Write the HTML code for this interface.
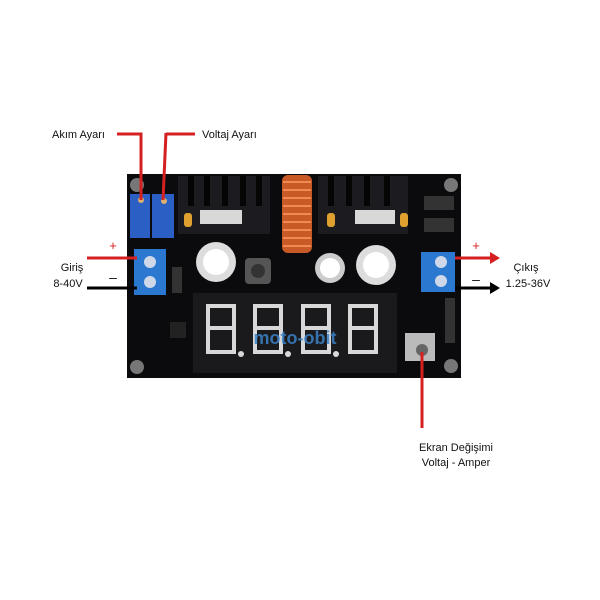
<!DOCTYPE html>
<html><head><meta charset="utf-8"><style>
html,body{margin:0;padding:0;background:#fff}
svg{display:block}
text{font-family:"Liberation Sans",sans-serif}
</style></head><body>
<svg width="600" height="600" viewBox="0 0 600 600" xmlns="http://www.w3.org/2000/svg">
<rect width="600" height="600" fill="#fff"/>
<rect x="127" y="174" width="334" height="204" fill="#0b0b0d"/>
<g fill="#1c1c20">
<rect x="178" y="176" width="92" height="58"/>
<rect x="318" y="176" width="90" height="58"/>
</g>
<g fill="#050506">
<rect x="188" y="176" width="6" height="30"/><rect x="204" y="176" width="6" height="30"/><rect x="222" y="176" width="6" height="30"/><rect x="240" y="176" width="6" height="30"/><rect x="256" y="176" width="6" height="30"/>
<rect x="328" y="176" width="6" height="30"/><rect x="346" y="176" width="6" height="30"/><rect x="364" y="176" width="6" height="30"/><rect x="384" y="176" width="6" height="30"/>
</g>
<rect x="200" y="210" width="42" height="14" fill="#d8d8d8"/>
<rect x="355" y="210" width="40" height="14" fill="#d8d8d8"/>
<rect x="184" y="213" width="8" height="14" rx="3" fill="#e0a030"/>
<rect x="327" y="213" width="8" height="14" rx="3" fill="#e0a030"/>
<rect x="400" y="213" width="8" height="14" rx="3" fill="#e0a030"/>
<rect x="282" y="175" width="30" height="78" rx="6" fill="#c85a28"/>
<g stroke="#f08a50" stroke-width="2">
<line x1="283" y1="182" x2="311" y2="182"/><line x1="283" y1="190" x2="311" y2="190"/><line x1="283" y1="198" x2="311" y2="198"/><line x1="283" y1="206" x2="311" y2="206"/><line x1="283" y1="214" x2="311" y2="214"/><line x1="283" y1="222" x2="311" y2="222"/><line x1="283" y1="230" x2="311" y2="230"/><line x1="283" y1="238" x2="311" y2="238"/><line x1="283" y1="246" x2="311" y2="246"/>
</g>
<rect x="424" y="196" width="30" height="14" fill="#333"/>
<rect x="424" y="218" width="30" height="14" fill="#333"/>
<circle cx="216" cy="262" r="20" fill="#ddd"/><circle cx="216" cy="262" r="13" fill="#fff"/>
<circle cx="330" cy="268" r="15" fill="#ccc"/><circle cx="330" cy="268" r="10" fill="#fff"/>
<circle cx="376" cy="265" r="20" fill="#ddd"/><circle cx="376" cy="265" r="13" fill="#fff"/>
<rect x="245" y="258" width="26" height="26" rx="4" fill="#555"/><circle cx="258" cy="271" r="7" fill="#333"/>
<rect x="130" y="194" width="20" height="44" fill="#2b5fc4"/>
<rect x="152" y="194" width="22" height="44" fill="#2b5fc4"/>
<circle cx="141" cy="200" r="3" fill="#e0b070"/><circle cx="164" cy="201" r="3" fill="#e0b070"/>
<rect x="134" y="249" width="32" height="46" fill="#2a78d0"/>
<circle cx="150" cy="262" r="6" fill="#cfd8e8"/><circle cx="150" cy="282" r="6" fill="#cfd8e8"/>
<rect x="172" y="267" width="10" height="26" fill="#333"/>
<rect x="421" y="252" width="34" height="40" fill="#2a78d0"/>
<circle cx="441" cy="262" r="6" fill="#cfd8e8"/><circle cx="441" cy="281" r="6" fill="#cfd8e8"/>
<circle cx="137" cy="185" r="7" fill="#777"/><circle cx="451" cy="185" r="7" fill="#777"/>
<circle cx="137" cy="367" r="7" fill="#777"/><circle cx="451" cy="366" r="7" fill="#777"/>
<rect x="193" y="293" width="204" height="80" fill="#1a1a1c"/>
<g fill="none" stroke="#d8d8d8" stroke-width="4">
<path d="M208 306h26v22h-26zM208 328v24h26v-24"/>
<path d="M255 306h26v22h-26zM255 328v24h26v-24"/>
<path d="M303 306h26v22h-26zM303 328v24h26v-24"/>
<path d="M350 306h26v22h-26zM350 328v24h26v-24"/>
</g>
<g fill="#d8d8d8"><circle cx="241" cy="354" r="3"/><circle cx="288" cy="354" r="3"/><circle cx="336" cy="354" r="3"/></g>
<text x="295" y="344" font-size="18" font-weight="bold" fill="#3a82c8" text-anchor="middle" opacity="0.85">moto-obit</text>
<rect x="405" y="333" width="30" height="28" fill="#bbb"/><circle cx="422" cy="350" r="6" fill="#666"/>
<rect x="445" y="298" width="10" height="45" fill="#333"/>
<rect x="170" y="322" width="16" height="16" fill="#222"/>
<g fill="none" stroke="#d42020" stroke-width="3">
<polyline points="117,134 141,134 141,200"/>
<polyline points="166,134 195,134"/>
<line x1="166" y1="133" x2="163" y2="200"/>
<line x1="87" y1="258" x2="137" y2="258"/>
<line x1="455" y1="258" x2="492" y2="258"/>
<line x1="422" y1="352" x2="422" y2="428"/>
</g>
<polygon points="490,252 500,258 490,264" fill="#d42020"/>
<g stroke="#000" stroke-width="3"><line x1="87" y1="288" x2="137" y2="288"/><line x1="455" y1="288" x2="492" y2="288"/></g>
<polygon points="490,282 500,288 490,294" fill="#000"/>
<g font-size="11" fill="#111">
<text x="52" y="138">Akım Ayarı</text>
<text x="202" y="138">Voltaj Ayarı</text>
<text x="72" y="271" text-anchor="middle">Giriş</text>
<text x="68" y="287" text-anchor="middle">8-40V</text>
<text x="526" y="271" text-anchor="middle">Çıkış</text>
<text x="528" y="287" text-anchor="middle">1.25-36V</text>
<text x="456" y="451" text-anchor="middle">Ekran Değişimi</text>
<text x="456" y="466" text-anchor="middle">Voltaj - Amper</text>
</g>
<text x="113" y="250" font-size="13" fill="#d42020" text-anchor="middle">+</text>
<text x="113" y="282" font-size="14" fill="#111" text-anchor="middle">–</text>
<text x="476" y="250" font-size="13" fill="#d42020" text-anchor="middle">+</text>
<text x="476" y="284" font-size="14" fill="#111" text-anchor="middle">–</text>
</svg>
</body></html>
